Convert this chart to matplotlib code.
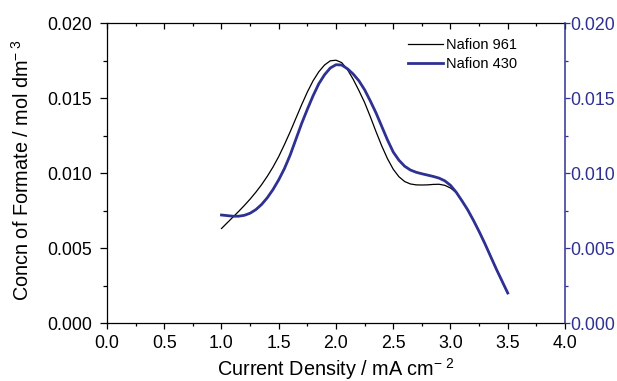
import numpy as np
import matplotlib
matplotlib.use("Agg")
import matplotlib.pyplot as plt
from matplotlib.ticker import MultipleLocator

plt.rcParams['font.family'] = ['Liberation Sans', 'DejaVu Sans']
plt.rcParams['mathtext.fontset'] = 'custom'
plt.rcParams['mathtext.rm'] = 'Liberation Sans'
plt.rcParams['mathtext.it'] = 'Liberation Sans'

# current density, mA cm-2
current = [1.00, 1.05, 1.10, 1.15, 1.20, 1.25, 1.30, 1.35, 1.40, 1.45,
           1.50, 1.55, 1.60, 1.65, 1.70, 1.75, 1.80, 1.85, 1.90, 1.95,
           2.00, 2.05, 2.10, 2.15, 2.20, 2.25, 2.30, 2.35, 2.40, 2.45,
           2.50, 2.55, 2.60, 2.65, 2.70, 2.75, 2.80, 2.85, 2.90, 2.95,
           3.00, 3.05, 3.10, 3.15, 3.20, 3.25, 3.30, 3.35, 3.40, 3.45,
           3.50]

# Nafion 961, mol dm-3
conc_961 = [0.00630, 0.00668, 0.00706, 0.00744, 0.00784, 0.00826, 0.00872, 0.00922, 0.00978, 0.01040,
            0.01110, 0.01190, 0.01275, 0.01365, 0.01455, 0.01540, 0.01615, 0.01675, 0.01720, 0.01748,
            0.01752, 0.01736, 0.01690, 0.01625, 0.01550, 0.01470, 0.01375, 0.01275, 0.01180, 0.01095,
            0.01025, 0.00975, 0.00943, 0.00927, 0.00921, 0.00920, 0.00921, 0.00924, 0.00925, 0.00918,
            0.00900, 0.00870, 0.00815, 0.00755, 0.00685, 0.00610, 0.00530, 0.00445, 0.00360, 0.00280,
            0.00200]

# Nafion 430, mol dm-3
conc_430 = [0.00720, 0.00716, 0.00712, 0.00712, 0.00718, 0.00732, 0.00756, 0.00790, 0.00835, 0.00890,
            0.00955, 0.01030, 0.01120, 0.01225, 0.01330, 0.01425, 0.01515, 0.01595, 0.01655, 0.01700,
            0.01722, 0.01720, 0.01695, 0.01660, 0.01615, 0.01555, 0.01480, 0.01400, 0.01310, 0.01220,
            0.01140, 0.01085, 0.01045, 0.01020, 0.01005, 0.00995, 0.00986, 0.00977, 0.00966, 0.00948,
            0.00918, 0.00872, 0.00815, 0.00755, 0.00685, 0.00610, 0.00530, 0.00445, 0.00360, 0.00280,
            0.00200]

blue = '#2e3192'

fig = plt.figure(figsize=(6.17, 3.81), dpi=100)
ax = fig.add_axes([0.1734, 0.1522, 0.7423, 0.7874])

ax.plot(current, conc_961, color='black', lw=0.9, label='Nafion 961')
ax.plot(current, conc_430, color=blue, lw=2.0, label='Nafion 430')

ax.set_xlim(0, 4)
ax.set_ylim(0, 0.02)
ax.xaxis.set_major_locator(MultipleLocator(0.5))
ax.xaxis.set_minor_locator(MultipleLocator(0.25))
ax.yaxis.set_major_locator(MultipleLocator(0.005))
ax.yaxis.set_minor_locator(MultipleLocator(0.0025))
ax.xaxis.set_major_formatter(plt.FormatStrFormatter('%.1f'))
ax.yaxis.set_major_formatter(plt.FormatStrFormatter('%.3f'))
ax.tick_params(which='both', direction='out', labelsize=12.8, top=True, right=False, width=0.9)
ax.tick_params(axis='y', which='major', length=5, pad=6)
ax.tick_params(axis='y', which='minor', length=3)
ax.tick_params(axis='x', which='major', length=4.3, pad=4.5)
ax.tick_params(axis='x', which='minor', length=2.5)
for t in ax.xaxis.get_major_ticks() + ax.xaxis.get_minor_ticks():
    t.tick2line.set_marker(3)  # top ticks point inward

ax.spines['right'].set_visible(False)
for s in ['left', 'bottom', 'top']:
    ax.spines[s].set_linewidth(0.9)

ax2 = ax.twinx()
ax2.set_ylim(0, 0.02)
ax2.yaxis.set_major_locator(MultipleLocator(0.005))
ax2.yaxis.set_minor_locator(MultipleLocator(0.0025))
ax2.yaxis.set_major_formatter(plt.FormatStrFormatter('%.3f'))
ax2.tick_params(which='both', direction='out', colors=blue, labelsize=12.8, width=0.9)
ax2.tick_params(which='major', length=3.6, pad=0.5)
ax2.tick_params(which='minor', length=2.5)
ax2.spines['right'].set_color(blue)
ax2.spines['right'].set_linewidth(1.1)
for s in ['left', 'bottom', 'top']:
    ax2.spines[s].set_visible(False)

ax.set_xlabel(r'Current Density / mA cm$^{-\ 2}$', fontsize=14.3, labelpad=2.5)
ax.set_ylabel(r'Concn of Formate / mol dm$^{-\ 3}$', fontsize=14.3)
ax.yaxis.set_label_coords(-0.162, 0.51)

ax.legend(loc='upper right', bbox_to_anchor=(0.925, 0.995), frameon=False,
          fontsize=10.5, handlelength=2.4, handletextpad=0.2, labelspacing=0.35)

fig.savefig('out.png', dpi=100)
